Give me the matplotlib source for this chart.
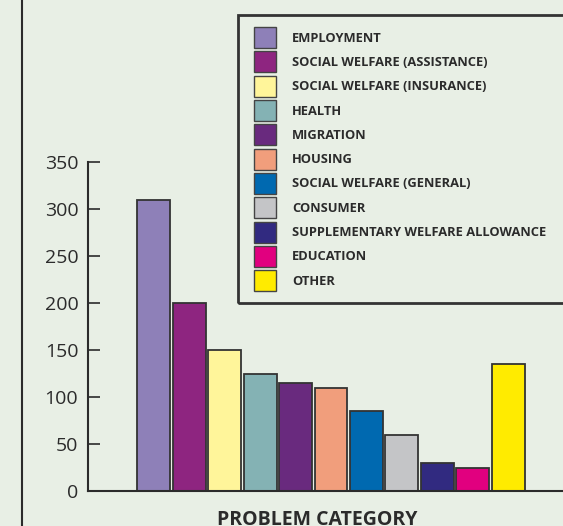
import matplotlib.pyplot as plt
from matplotlib.patches import Patch, Rectangle
from matplotlib.lines import Line2D

categories = ['EMPLOYMENT', 'SOCIAL WELFARE (ASSISTANCE)', 'SOCIAL WELFARE (INSURANCE)',
              'HEALTH', 'MIGRATION', 'HOUSING', 'SOCIAL WELFARE (GENERAL)', 'CONSUMER',
              'SUPPLEMENTARY WELFARE ALLOWANCE', 'EDUCATION', 'OTHER']
values = [310, 200, 150, 125, 115, 110, 85, 60, 30, 25, 135]
colors = ['#8e80b8', '#8e2580', '#fff59a', '#84b2b4', '#692a7e', '#f19e7c',
          '#0069b0', '#c4c5c7', '#312a80', '#e1007f', '#ffeb00']
yticks = [0, 50, 100, 150, 200, 250, 300, 350]

BG = '#e8efe5'
INK = '#2b2b2b'
W, H = 563, 526

plt.rcParams['font.family'] = ['Open Sans', 'DejaVu Sans']

fig = plt.figure(figsize=(W / 100, H / 100), dpi=100, facecolor=BG)
ax = fig.add_axes([88 / W, (H - 491) / H, 1 - 88 / W, (491 - 162) / H])
ax.set_facecolor(BG)

x = list(range(len(values)))
ax.bar(x, values, width=0.93, color=colors, edgecolor='#333333', linewidth=1.3)

ax.set_xlim(-1.86, 11.55)
ax.set_ylim(0, 350)
ax.set_yticks(yticks)
ax.set_xticks([])
for s in ['top', 'right']:
    ax.spines[s].set_visible(False)
for s in ['left', 'bottom']:
    ax.spines[s].set_color(INK)
    ax.spines[s].set_linewidth(1.5)
ax.tick_params(axis='y', direction='in', length=8.6, width=1.2, color=INK,
               labelsize=14, labelcolor=INK, pad=7)
ax.set_xlabel('PROBLEM CATEGORY', fontsize=14, fontweight='bold', color=INK)
ax.xaxis.set_label_coords(0.482, -0.058)

# left panel border line
fig.add_artist(Line2D([22 / W, 22 / W], [0, 1], color=INK, linewidth=1.5,
                      transform=fig.transFigure))

# legend frame
fig.add_artist(Rectangle((238 / W, (H - 303) / H), 1.0, (303 - 15) / H,
                         transform=fig.transFigure, facecolor='none',
                         edgecolor='#333333', linewidth=2))

handles = [Patch(facecolor=c, edgecolor='#444444', linewidth=1) for c in colors]
leg = fig.legend(handles, categories, loc='upper left',
                 bbox_to_anchor=(254 / W, (H - 27) / H), frameon=False,
                 borderpad=0, borderaxespad=0, fontsize=9.3,
                 handlelength=1.70, handleheight=2.12, labelspacing=0.26,
                 handletextpad=1.24)
for t in leg.get_texts():
    t.set_fontweight('bold')
    t.set_color(INK)

fig.savefig('out.png', dpi=100, facecolor=BG)
